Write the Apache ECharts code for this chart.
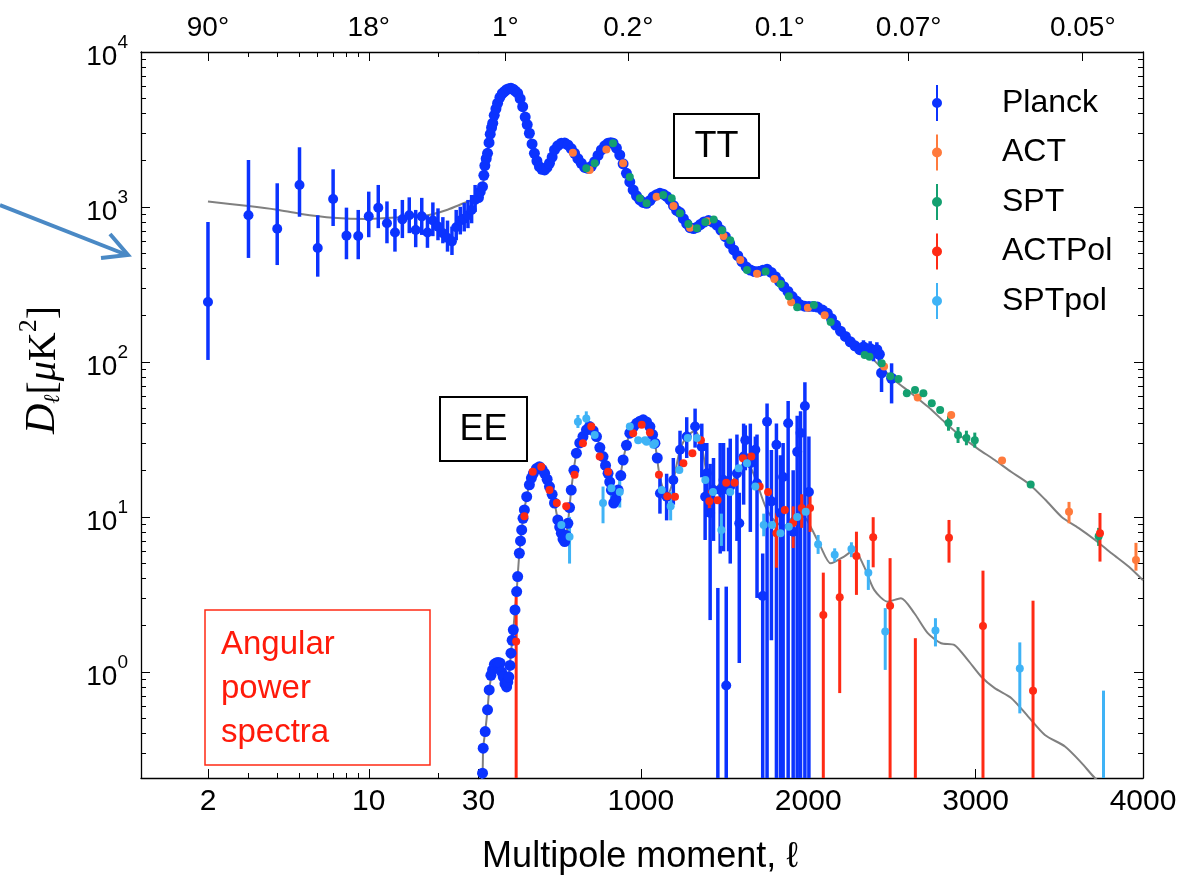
<!DOCTYPE html>
<html><head><meta charset="utf-8">
<script src="https://cdn.jsdelivr.net/npm/echarts@6/dist/echarts.min.js"></script>
<style>html,body{margin:0;padding:0;background:#fff}#c{width:1182px;height:889px}</style>
</head><body><div id="c"></div>
<script>
// ---------- tick labels ----------
const xLowTicks = [2, 10];
const xLowMinor = [3, 4, 5, 6, 7, 8, 9, 20];
const xHighTicks = [30, 1000, 2000, 3000, 4000];
const degLowTicks = [2, 10];
const degLowLabels = ['90°', '18°'];
const degHighTicks = [190, 925, 1830, 2600, 3640];
const degHighLabels = ['1°', '0.2°', '0.1°', '0.07°', '0.05°'];
const yTicks = [1, 10, 100, 1000, 10000];
const yMinor = [0.3,0.4,0.5,0.6,0.7,0.8,0.9,2,3,4,5,6,7,8,9,20,30,40,50,60,70,80,90,200,300,400,500,600,700,800,900,2000,3000,4000,5000,6000,7000,8000,9000];
const legendNames = ['Planck', 'ACT', 'SPT', 'ACTPol', 'SPTpol'];

// ---------- data: [l, D, lo, hi] ----------
const planckTTLow = [[2,244,103,800],[3,884,469,2010],[4,724,422,1422],[5,1387,865,2428],[6,544,355,884],[7,1127,754,1750],[8,653,460,990],[9,650,460,957],[10,870,638,1256],[11,988,730,1387],[12,785,583,1086],[13,684,515,970],[14,832,630,1110],[15,884,678,1154],[16,710,550,957],[17,870,660,1145],[18,684,545,884],[19,817,648,1070],[20,747,610,980],[21,678,583,860],[22,630,515,817],[23,600,490,747],[24,740,610,957],[25,817,665,1003],[26,840,695,1060],[27,884,730,1110],[28,957,785,1195],[29,1110,930,1387]];
const ttModelLow = [[2,1083],[3,1015],[4,960],[5,905],[7,853],[10,837],[14,860],[18,884],[22,960],[26,1060],[30,1150]];
const planckTT = [[30,1150],[40,1250],[54,1352],[62,1600],[68,1850],[76,2050],[84,2220],[93,2600],[100,2950],[108,3250],[115,3470],[124,3900],[134,4300],[144,4670],[158,5100],[172,5400],[184,5550],[196,5700],[211,5800],[224,5830],[237,5750],[250,5600],[264,5420],[279,5000],[294,4440],[309,3800],[321,3400],[334,2990],[350,2550],[364,2220],[379,1980],[394,1820],[409,1750],[425,1733],[439,1800],[454,1915],[470,2100],[484,2333],[503,2480],[525,2577],[545,2590],[564,2513],[584,2380],[604,2220],[624,2050],[644,1915],[665,1800],[684,1775],[704,1830],[724,1960],[744,2150],[764,2333],[784,2480],[804,2577],[820,2600],[834,2577],[854,2400],[874,2165],[894,1900],[914,1648],[934,1450],[954,1288],[974,1180],[994,1110],[1014,1070],[1034,1057],[1054,1100],[1074,1165],[1094,1200],[1114,1224],[1134,1210],[1154,1170],[1174,1110],[1195,1020],[1214,950],[1234,920],[1254,840],[1274,780],[1294,735],[1315,725],[1335,740],[1355,770],[1377,800],[1404,817],[1430,800],[1454,765],[1478,710],[1505,643],[1531,580],[1555,528],[1579,485],[1604,444],[1629,410],[1654,392],[1679,383],[1704,383],[1729,390],[1754,397],[1779,378],[1804,355],[1829,330],[1854,306],[1879,285],[1904,264],[1929,247],[1954,233],[1979,229],[2004,228],[2030,228],[2055,226],[2085,216],[2114,206],[2139,190],[2164,173],[2193,158],[2222,146],[2251,135],[2279,127],[2308,120],[2330,125,112,138],[2350,118,106,131],[2370,122,108,136],[2390,115,101,128],[2410,120,106,134],[2425,112,99,126],[2438,85,64,100],[2498,78.5,54,98]];
const ttModel = [[30,1150],[54,1352],[84,2220],[114,3467],[144,4670],[184,5546],[224,5830],[264,5418],[294,4437],[334,2985],[364,2220],[394,1820],[424,1733],[454,1915],[484,2333],[524,2577],[564,2513],[604,2220],[644,1915],[684,1775],[724,1960],[764,2333],[804,2577],[834,2577],[874,2165],[914,1648],[954,1288],[994,1110],[1034,1057],[1074,1165],[1124,1224],[1174,1110],[1234,940],[1294,728],[1344,747],[1404,817],[1454,765],[1504,643],[1554,528],[1604,444],[1654,392],[1704,383],[1754,397],[1804,355],[1854,306],[1904,264],[1954,233],[2004,228],[2054,228],[2114,206],[2164,173],[2250,145],[2330,120],[2420,96],[2514,76.6],[2614,63],[2714,51.5],[2814,41],[2914,33],[3014,27.5],[3114,23.3],[3214,19.5],[3314,16.5],[3414,13],[3514,10.0],[3614,8.5],[3714,7.1],[3814,5.8],[3914,4.78],[4000,3.9]];
const actTT = [[594,2240],[694,1733],[794,2350],[894,1915],[1094,1165],[1195,1015],[1294,735],[1398,808],[1494,650],[1594,455],[1694,371],[1798,343],[1898,243],[1998,224],[2098,200],[2453,93.3],[2654,58.9],[2854,45.5],[3158,23.1],[3558,10.8,9.1,12.5],[3958,5.28,4.5,6.8]];
const sptTT = [[674,1775],[724,1915],[834,2577],[934,1560],[994,1140],[1034,1057],[1134,1194],[1184,1140],[1234,910],[1284,777],[1335,728],[1385,800],[1435,830],[1485,707],[1534,610],[1634,392],[1745,383],[1835,318],[1884,265],[1934,225],[2034,233],[2134,181],[2337,111],[2366,108],[2439,98],[2491,81],[2539,77.7],[2589,62.8],[2638,66],[2688,62.8],[2738,54.2],[2788,49],[2838,40.3,36,45],[2895,33.8,30,38],[2945,32.3,29,36],[2995,31.3,28,35],[3329,16.2],[3735,7.5,6.5,8.5]];
const eeModel = [[30,0.12],[54,0.222],[58,0.322],[70,0.412],[84,0.569],[94,0.765],[114,1.03],[135,1.14],[159,1.14],[178,0.93],[198,0.80],[211,0.93],[224,1.32],[238,1.87],[248,2.51],[258,3.30],[264,4.12],[274,5.83],[288,8.24],[304,11.1],[318,13.5],[334,16.1],[358,19.1],[394,21.1],[425,19.1],[454,15.7],[484,12.3],[504,9.56],[525,7.85],[545,6.93],[564,9.1],[584,14.9],[615,25.8],[654,33],[694,38.3],[735,33],[774,24.5],[804,19.1],[824,14.9],[838,12.3],[864,14.9],[894,23.3],[934,34.7],[975,40.2],[1014,42.3],[1054,38.3],[1084,29.9],[1114,18],[1154,13.5],[1194,17.3],[1234,27.1],[1274,33],[1324,36],[1364,28.4],[1394,19.1],[1434,14.9],[1494,17],[1534,16.5],[1574,19.1],[1614,22],[1654,21],[1694,16.5],[1744,11.7],[1794,9.56],[1854,8.65],[1914,10.0],[1974,10.0],[2014,8.65],[2074,6.43],[2134,5.02],[2214,5.55],[2274,6.12],[2334,4.78],[2394,3.38],[2474,2.84],[2554,2.99],[2634,2.39],[2714,1.78],[2794,1.53],[2874,1.49],[2954,1.19],[3034,0.93],[3114,0.785],[3214,0.677],[3314,0.515],[3414,0.392],[3534,0.330],[3634,0.258],[3714,0.206],[3814,0.17]];
const planckEE = [[54,0.222],[58,0.322],[70,0.412],[84,0.569],[94,0.765],[104,0.95],[114,1.03],[125,1.12],[135,1.14],[147,1.15],[159,1.14],[168,1.0],[178,0.93],[188,0.84],[198,0.80],[205,0.86],[211,0.93],[218,1.1],[224,1.32],[231,1.6],[238,1.87],[248,2.51],[258,3.30],[264,4.12],[274,5.83],[281,7.0],[288,8.24],[296,9.8],[304,11.1],[318,13.5],[334,16.1],[346,17.8],[358,19.1],[376,20.5],[394,21.1],[410,20.3],[425,19.1],[440,17.5],[454,15.7],[470,14],[484,12.3],[504,9.56],[515,8.6],[525,7.85],[535,7.2],[545,6.93],[554,7.6],[564,9.1],[574,11.5],[584,14.9],[600,20],[615,25.8],[635,30],[654,33],[675,36.5],[694,38.3],[715,36],[735,33],[755,28],[774,24.5],[789,21.5],[804,19.1],[814,16.8],[824,14.9],[838,12.3],[850,13],[864,14.9],[880,18.5],[894,23.3],[914,29],[934,34.7],[955,38],[975,40.2],[995,41.5],[1014,42.3],[1034,41],[1054,38.3],[1070,34],[1084,29.9],[1098,24]];
const planckEEBars = [[1114,14.2,10.5,19],[1154,13.5,9.5,19],[1194,17.3,12,24],[1234,27.1,20,36],[1274,33,24,44],[1324,38.3,28,50],[1364,28.4,18,40],[1394,19.1,10,30],[1434,14.9,7,24],[1494,17.3,6,30],[1534,15.7,5,32],[1574,19.1,7,34],[1614,24.5,12,40],[1654,22.2,8,40],[1694,16.5,3,34],[1384,13.5,7.1,19.1],[1414,10.6,2.16,22],[1460,null,0.01,3.48],[1510,0.816,0.01,3.55],[1474,14.9,5.8,30],[1524,14.9,6,28],[1588,9.1,1.14,14.3],[1624,31.3,20,39],[1684,27.1,14.9,33],[1728,3.09,0.01,5.8],[1754,41.2,0.01,54],[1780,12.6,1.6,27],[1810,29.2,0.01,40],[1834,10.6,0.01,25],[1850,18.1,0.01,30],[1880,40.2,0.01,56],[1910,8.03,0.01,20],[1934,26.3,0.01,45],[1954,34.8,0.01,48],[1980,52,0.01,74],[2004,14.5,0.01,33]];
const actpolEE = [[255,1.57,0.01,3.06],[304,10.1],[354,19.6],[405,21.1],[454,14.9],[498,12.3],[554,11.7],[604,18.7],[654,29.9],[704,38.3],[754,24.5],[804,19.6],[954,34.7],[1005,39.3],[1054,35],[1108,18.7],[1158,13.6],[1204,13.5],[1254,22.2],[1308,25.8],[1359,31.3],[1409,12.6,10.6,14.9],[1458,12.8],[1510,16.6],[1560,16.6],[1610,23.9],[1660,24.5],[1710,15.7],[1760,14.5],[1810,7.85,4.7,10.6],[1860,11.1],[1910,9.18,6.3,11.7],[1961,11.4,8.5,14],[2011,11.4,8,14],[2090,2.33,0.01,4.37],[2188,3.03,0.73,5.28],[2288,5.6,3.14,8.03],[2388,7.4,4.73,9.96],[2489,2.67,0.01,5.42],[2640,null,0.01,1.65],[2841,7.35,5.07,9.56],[3044,1.98,0.01,4.5],[3343,0.757,0.01,2.88],[3743,7.85,5.15,10.6]];
const sptpolEE = [[525,8.87],[574,7.46,5,10],[624,41.2,37.5,45.5],[674,43.2,39,48],[724,33.8],[774,12.3,9.1,15.7],[824,15.3,12,19],[874,14.5,11.5,18],[934,38.3],[984,31.3],[1025,31.3],[1034,30.6],[1074,29.2],[1084,29.9],[1125,14.9],[1178,11.7,9.5,14.5],[1230,20.1],[1280,32.3],[1335,32.3],[1385,17.3],[1431,14.5],[1481,8.24,6.5,10.5],[1534,14.5],[1584,20.6],[1634,22.2],[1684,15.7],[1734,8.87,7.5,10.5],[1784,8.87],[1834,7.85],[1884,8.65],[1934,10],[1985,10.8],[2059,6.67,5.77,7.65],[2158,5.69,5.15,6.27],[2258,6.22,5.5,6.86],[2359,4.37,3.38,5.28],[2460,1.82,1.03,2.58],[2760,1.85,1.46,2.22],[3264,1.05,0.54,1.55],[3764,null,0.01,0.757]];

// ---------- styling ----------
const C = { Planck:'#0b33ff', ACT:'#ff7a3c', SPT:'#14a070', ACTPol:'#ff2a14', SPTpol:'#3fb3f6', model:'#808080' };
const YMIN = 0.2067, YMAX = 10000;
const SANS = "'Liberation Sans', 'DejaVu Sans', sans-serif";

const pts = a => a.filter(r => r[1] != null).map(r => [r[0], r[1]]);
const bars = a => a.filter(r => r.length >= 4).map(r => [r[0], r[2], r[3]]);
const nearest = (ticks, v) => ticks.reduce((b, t, i) => Math.abs(t - v) < Math.abs(ticks[b] - v) ? i : b, 0);

function errRender(color, width) {
  return function (params, api) {
    const l = api.value(0), lo = api.value(1), hi = api.value(2);
    const p1 = api.coord([l, hi]);
    const p2 = api.coord([l, lo]);
    const cs = params.coordSys;
    const top = cs.y, bot = cs.y + cs.height;
    const c = v => Math.max(top, Math.min(bot, v));
    return { type: 'line', shape: { x1: p1[0], y1: c(p1[1]), x2: p2[0], y2: c(p2[1]) },
      style: { stroke: color, lineWidth: width } };
  };
}
function errSeries(arr, color, gi, width) {
  return { type: 'custom', name: '_e', xAxisIndex: gi === 0 ? 0 : 4, yAxisIndex: gi === 0 ? 0 : 2,
    renderItem: errRender(color, width || 3), data: bars(arr), encode: { x: 0, y: [1, 2] }, z: 3, silent: true };
}
function scat(arr, name, gi, size) {
  return { type: 'scatter', name: name, xAxisIndex: gi === 0 ? 0 : 4, yAxisIndex: gi === 0 ? 0 : 2,
    data: pts(arr), symbolSize: size || 9, itemStyle: { color: C[name], opacity: 1 }, z: 4, silent: true };
}
function modelLine(arr, gi) {
  return { type: 'line', name: '_m', xAxisIndex: gi === 0 ? 0 : 4, yAxisIndex: gi === 0 ? 0 : 2,
    data: arr, symbol: 'none', smooth: 0.25, lineStyle: { color: C.model, width: 2 }, z: 2, silent: true };
}

const tickStyle = { color: '#000', width: 1 };
function xAx(grid, type, min, max, pos, opts) {
  return Object.assign({ gridIndex: grid, type: type, min: min, max: max, position: pos,
    logBase: 10, splitLine: { show: false },
    axisLine: { show: true, onZero: false, lineStyle: { color: '#000', width: 1.3 } } }, opts);
}
const ICON = 'path://M4,0 L6,0 L6,36 L4,36 Z M5,13 A5,5 0 1 1 5,23 A5,5 0 1 1 5,13 Z';
const tickFont = { color: '#000', fontSize: 30, fontFamily: SANS, margin: 9 };
const degFont = { color: '#000', fontSize: 28, fontFamily: SANS, margin: 10 };

const option = {
  animation: false,
  backgroundColor: '#fff',
  grid: [
    { left: 141, top: 52, width: 337.5, height: 726 },
    { left: 478.5, top: 52, width: 664.5, height: 726 }
  ],
  xAxis: [
    xAx(0, 'log', 1.023, 30, 'bottom', {
      axisTick: { inside: true, length: 9, lineStyle: tickStyle, customValues: xLowTicks },
      axisLabel: Object.assign({ customValues: xLowTicks, formatter: v => String(Math.round(v)) }, tickFont) }),
    xAx(0, 'log', 1.023, 30, 'bottom', { axisLine: { show: false },
      axisTick: { inside: true, length: 5, lineStyle: tickStyle, customValues: xLowMinor }, axisLabel: { show: false } }),
    xAx(0, 'log', 1.023, 30, 'top', {
      axisTick: { inside: true, length: 9, lineStyle: tickStyle, customValues: degLowTicks },
      axisLabel: Object.assign({ customValues: degLowTicks, formatter: v => degLowLabels[nearest(degLowTicks, v)] }, degFont) }),
    xAx(0, 'log', 1.023, 30, 'top', { axisLine: { show: false },
      axisTick: { inside: true, length: 5, lineStyle: tickStyle, customValues: xLowMinor }, axisLabel: { show: false } }),
    xAx(1, 'value', 30, 4000, 'bottom', {
      axisTick: { inside: true, length: 9, lineStyle: tickStyle, customValues: xHighTicks },
      axisLabel: Object.assign({ customValues: xHighTicks, formatter: v => String(Math.round(v)) }, tickFont) }),
    xAx(1, 'value', 30, 4000, 'top', {
      axisTick: { inside: true, length: 9, lineStyle: tickStyle, customValues: degHighTicks },
      axisLabel: Object.assign({ customValues: degHighTicks, formatter: v => degHighLabels[nearest(degHighTicks, v)] }, degFont) })
  ],
  yAxis: [
    { gridIndex: 0, type: 'log', logBase: 10, min: YMIN, max: YMAX, position: 'left', splitLine: { show: false },
      axisLine: { show: true, lineStyle: { color: '#000', width: 1.3 } },
      axisTick: { inside: true, length: 9, lineStyle: tickStyle, customValues: yTicks },
      axisLabel: { customValues: yTicks, margin: 13, color: '#000',
        formatter: v => '{b|10}{e|' + Math.round(Math.log10(v)) + '}',
        rich: { b: { fontSize: 28, fontFamily: SANS, color: '#000', verticalAlign: 'bottom', lineHeight: 38 },
                e: { fontSize: 19, fontFamily: SANS, color: '#000', verticalAlign: 'top', lineHeight: 19 } } } },
    { gridIndex: 0, type: 'log', logBase: 10, min: YMIN, max: YMAX, position: 'left', splitLine: { show: false },
      axisLine: { show: false }, axisLabel: { show: false },
      axisTick: { inside: true, length: 5, lineStyle: tickStyle, customValues: yMinor } },
    { gridIndex: 1, type: 'log', logBase: 10, min: YMIN, max: YMAX, position: 'right', splitLine: { show: false },
      axisLine: { show: true, lineStyle: { color: '#000', width: 1.3 } }, axisLabel: { show: false },
      axisTick: { inside: true, length: 9, lineStyle: tickStyle, customValues: yTicks } },
    { gridIndex: 1, type: 'log', logBase: 10, min: YMIN, max: YMAX, position: 'right', splitLine: { show: false },
      axisLine: { show: false }, axisLabel: { show: false },
      axisTick: { inside: true, length: 5, lineStyle: tickStyle, customValues: yMinor } }
  ],
  legend: {
    orient: 'vertical', left: 927, top: 80, itemWidth: 10, itemHeight: 36, itemGap: 13.5,
    selectedMode: false, icon: ICON,
    textStyle: { fontSize: 32, fontFamily: SANS, color: '#000', padding: [0, 0, 0, 55] },
    data: legendNames.map(n => ({ name: n, icon: ICON, itemStyle: { color: C[n] } }))
  },
  series: [
    modelLine(ttModelLow, 0),
    errSeries(planckTTLow, C.Planck, 0, 3.5),
    scat(planckTTLow, 'Planck', 0, 10),
    modelLine(ttModel, 1),
    modelLine(eeModel, 1),
    errSeries(planckTT, C.Planck, 1, 3.5),
    scat(planckTT, 'Planck', 1, 11),
    errSeries(planckEEBars, C.Planck, 1, 3.5),
    scat(planckEE, 'Planck', 1, 11),
    scat(planckEEBars, 'Planck', 1, 10),
    errSeries(actTT, C.ACT, 1, 3),
    scat(actTT, 'ACT', 1, 8),
    errSeries(sptTT, C.SPT, 1, 3),
    scat(sptTT, 'SPT', 1, 8),
    errSeries(actpolEE, C.ACTPol, 1, 3),
    scat(actpolEE, 'ACTPol', 1, 8),
    errSeries(sptpolEE, C.SPTpol, 1, 3),
    scat(sptpolEE, 'SPTpol', 1, 8)
  ],
  graphic: [
    { type: 'rect', z: 100, shape: { x: 674, y: 114, width: 85, height: 64 }, style: { fill: '#fff', stroke: '#000', lineWidth: 2 } },
    { type: 'text', z: 101, x: 716.5, y: 147, style: { text: 'TT', font: "36px 'Liberation Sans', sans-serif", fill: '#000', align: 'center', verticalAlign: 'middle' } },
    { type: 'rect', z: 100, shape: { x: 440, y: 397, width: 87, height: 64 }, style: { fill: '#fff', stroke: '#000', lineWidth: 2 } },
    { type: 'text', z: 101, x: 483.5, y: 430, style: { text: 'EE', font: "36px 'Liberation Sans', sans-serif", fill: '#000', align: 'center', verticalAlign: 'middle' } },
    { type: 'rect', z: 100, shape: { x: 205, y: 610, width: 225, height: 155 }, style: { fill: '#fff', stroke: '#ff2a14', lineWidth: 1.5 } },
    { type: 'text', z: 101, x: 221, y: 623, style: { text: 'Angular\npower\nspectra', font: "33px 'Liberation Sans', sans-serif", lineHeight: 44, fill: '#ff1a0a', align: 'left', verticalAlign: 'top' } },
    { type: 'polyline', z: 100, shape: { points: [[0, 205], [127, 255]] }, style: { stroke: '#4a89c5', lineWidth: 4, fill: null } },
    { type: 'polyline', z: 100, shape: { points: [[101, 258], [128, 255], [110, 234]] }, style: { stroke: '#4a89c5', lineWidth: 4, fill: null, lineJoin: 'miter' } },
    { type: 'text', z: 101, x: 40, y: 370, rotation: Math.PI / 2,
      style: { text: '{d|D}{l|ℓ}{t|[}{m|μ}{t|K}{p|2}{t|]}', align: 'center', verticalAlign: 'middle', fill: '#000',
        rich: { d: { fontFamily: 'Liberation Serif', fontStyle: 'italic', fontSize: 42, verticalAlign: 'bottom', lineHeight: 48, fill: '#000' },
                l: { fontFamily: 'DejaVu Serif', fontStyle: 'italic', fontSize: 22, verticalAlign: 'bottom', lineHeight: 20, fill: '#000' },
                t: { fontFamily: 'Liberation Serif', fontSize: 40, verticalAlign: 'bottom', lineHeight: 48, fill: '#000' },
                m: { fontFamily: 'Liberation Serif', fontStyle: 'italic', fontSize: 40, verticalAlign: 'bottom', lineHeight: 48, fill: '#000' },
                p: { fontFamily: 'Liberation Serif', fontSize: 26, verticalAlign: 'top', lineHeight: 26, fill: '#000' } } } },
    { type: 'text', z: 101, x: 640, y: 857, style: { text: 'Multipole moment, ℓ', font: "36px 'Liberation Sans', sans-serif", fill: '#000', align: 'center', verticalAlign: 'middle' } }
  ]
};
const chart = echarts.init(document.getElementById('c'), null, { renderer: 'canvas' });
chart.setOption(option);
</script></body></html>
